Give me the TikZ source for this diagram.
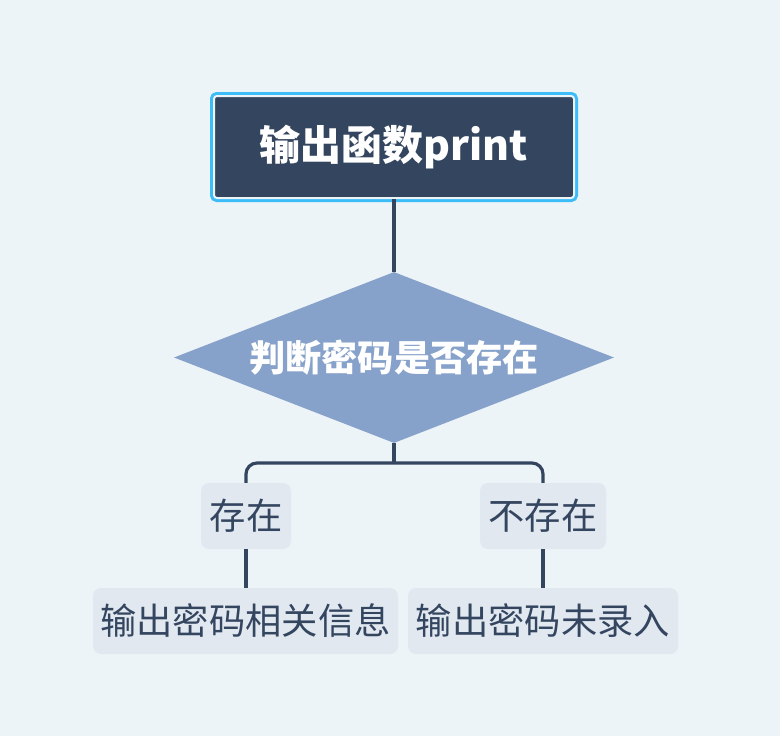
\documentclass[tikz,border=0pt]{standalone}
\usepackage{fontspec}
\newfontfamily\cjk{Noto Sans CJK SC}
\usetikzlibrary{shapes.geometric}
\definecolor{bgc}{HTML}{EDF4F8}
\definecolor{navy}{HTML}{34455F}
\definecolor{cyanb}{HTML}{3CBDF8}
\definecolor{diac}{HTML}{86A1CA}
\definecolor{lblc}{HTML}{E1E8F0}
\tikzset{
  topbox/.style={rectangle, fill=navy, draw=bgc, line width=2pt, rounded corners=3pt,
    preaction={draw=cyanb, line width=8pt, rounded corners=4pt},
    minimum width=360pt, minimum height=102pt, inner sep=0pt,
    text=white, font=\cjk\bfseries\fontsize{41}{46}\selectfont},
  decbox/.style={diamond, fill=diac, aspect=2.57, minimum width=440pt, minimum height=171pt,
    inner sep=0pt, text=white, font=\cjk\bfseries\fontsize{36.2}{40}\selectfont},
  lblbox/.style={rectangle, fill=lblc, rounded corners=8pt, minimum height=66pt, inner sep=0pt,
    text=navy, font=\cjk\fontsize{36.3}{40}\selectfont},
  conn/.style={draw=navy, line width=3.2pt}
}
\begin{document}
\begin{tikzpicture}[x=1pt,y=-1pt]
\fill[bgc] (0,0) rectangle (780,736);
\useasboundingbox (0,0) rectangle (780,736);
\node[topbox] (top) at (394,147) {输出函数print};
\node[decbox] (dia) at (394,357.5) {判断密码是否存在};
\node[lblbox, minimum width=90pt] (yes) at (246,516) {存在};
\node[lblbox, minimum width=126pt] (no) at (543,516) {不存在};
\node[lblbox, minimum width=305pt] (leafl) at (245.5,621) {输出密码相关信息};
\node[lblbox, minimum width=270pt] (leafr) at (543,621) {输出密码未录入};
\coordinate (j) at (394,463);
\draw[conn] (top.south) -- (dia.north);
\draw[conn] (dia.south) -- (j);
\draw[conn, rounded corners=11pt] (j) -| (yes.north);
\draw[conn, rounded corners=11pt] (j) -| (no.north);
\draw[conn] (yes.south) -- (yes.south |- leafl.north);
\draw[conn] (no.south) -- (no.south |- leafr.north);
\end{tikzpicture}
\end{document}
